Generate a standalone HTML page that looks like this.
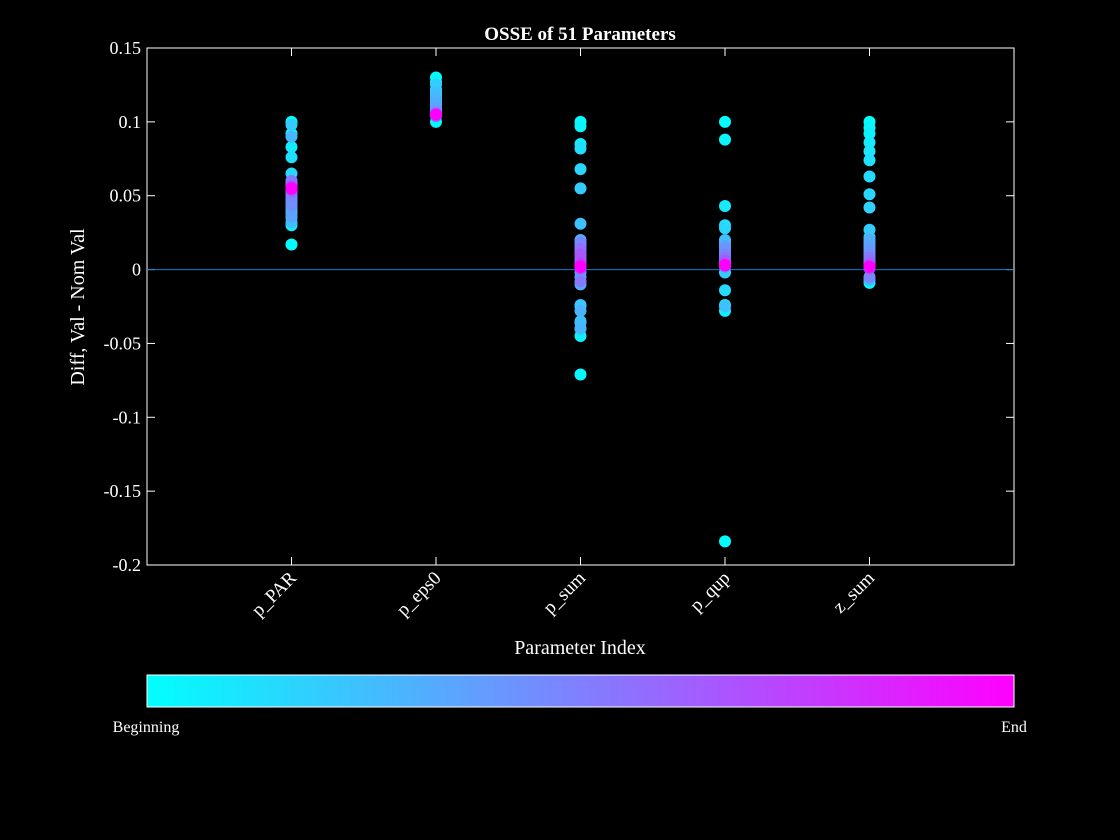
<!DOCTYPE html>
<html><head><meta charset="utf-8"><style>
html,body{margin:0;background:#000;overflow:hidden;width:1120px;height:840px;}
svg{display:block;}
svg text{font-family:"Liberation Serif",serif;fill:#fff;}
</style></head><body>
<svg id="c" width="1120" height="840" xmlns="http://www.w3.org/2000/svg">
<defs><linearGradient id="cool" x1="0" x2="1" y1="0" y2="0"><stop offset="0" stop-color="#00ffff"/><stop offset="1" stop-color="#ff00ff"/></linearGradient></defs>
<rect x="147" y="48" width="867" height="517" fill="#000" stroke="#fff" stroke-width="1"/>
<text x="580" y="40" text-anchor="middle" font-size="19" font-weight="bold">OSSE of 51 Parameters</text>
<text x="580" y="654" text-anchor="middle" font-size="20">Parameter Index</text>
<text transform="translate(84,307) rotate(-90)" text-anchor="middle" font-size="20">Diff, Val - Nom Val</text>
<g id="ax"></g>
<g id="pts"></g>
<rect x="147" y="675" width="867" height="32" fill="url(#cool)" stroke="#fff" stroke-width="1"/>
<text x="146" y="732" text-anchor="middle" font-size="16">Beginning</text>
<text x="1014" y="732" text-anchor="middle" font-size="16">End</text>
</svg>
<script>
const categories=["p_PAR","p_eps0","p_sum","p_qup","z_sum"];
const yTicks=[0.15,0.1,0.05,0,-0.05,-0.1,-0.15,-0.2];
const yTickLabels=["0.15","0.1","0.05","0","-0.05","-0.1","-0.15","-0.2"];
const sPAR=[0.1,0.017,0.092,0.03,0.083,0.035,0.076,0.04,0.065,0.045,0.098,0.038,0.06,0.032,0.09,0.047,0.058,0.05,0.036,0.042,0.048,0.06,0.044,0.058,0.05,0.052,0.06,0.053,0.057,0.054,0.056,0.055,0.055,0.056,0.055,0.054,0.055,0.056,0.055,0.055,0.055,0.055,0.055,0.055,0.055,0.055,0.055,0.055,0.055,0.055,0.055];
const sEPS=[0.13,0.1,0.127,0.122,0.118,0.115,0.12,0.112,0.11,0.108,0.125,0.113,0.12,0.118,0.116,0.114,0.112,0.11,0.109,0.108,0.107,0.106,0.105,0.104,0.105,0.106,0.105,0.105,0.104,0.105,0.105,0.105,0.105,0.105,0.105,0.105,0.105,0.105,0.105,0.105,0.105,0.105,0.105,0.105,0.105,0.105,0.105,0.105,0.105,0.105,0.105];
const sSUM=[0.1,-0.071,0.097,-0.045,0.085,-0.04,0.082,-0.035,0.068,-0.025,0.055,-0.024,0.031,-0.036,-0.04,-0.028,-0.01,0.02,-0.005,0.017,0.015,-0.002,0.012,0.01,0.018,0.008,-0.008,0.005,0.014,0.004,0.002,0.006,0.001,0.01,0.002,0.003,0.004,0.002,0.001,0.002,0.002,0.003,0.002,0.002,0.002,0.002,0.002,0.002,0.002,0.002,0.002];
const sQUP=[0.1,-0.184,0.088,-0.028,0.043,-0.024,0.03,-0.014,0.028,0.018,-0.002,0.015,-0.025,0.02,0.012,0.01,0.008,0.006,0.016,0.004,0.003,0.014,0.004,0.003,0.01,0.006,0.002,0.008,0.004,0.005,0.003,0.004,0.006,0.003,0.004,0.003,0.003,0.003,0.003,0.003,0.003,0.003,0.003,0.003,0.003,0.003,0.003,0.003,0.003,0.003,0.003];
const sZ=[0.1,-0.009,0.096,0.092,0.086,0.08,0.074,0.063,0.051,0.042,0.027,0.022,0.018,0.015,-0.007,0.012,0.02,0.009,0.016,0.007,0.013,0.005,0.01,0.004,-0.005,0.003,0.008,0.002,0.006,0.001,0.002,0.004,0.003,0.002,0.001,0.002,0.002,0.002,0.002,0.002,0.002,0.002,0.002,0.002,0.002,0.002,0.002,0.002,0.002,0.002,0.002];
const series=[sPAR,sEPS,sSUM,sQUP,sZ];
const L=147,R=1014,T=48,B=565;
const X=i=>L+(i+1)*(R-L)/6;
const Y=v=>T+(0.15-v)/0.35*(B-T);
const NS="http://www.w3.org/2000/svg";
const ax=document.getElementById('ax'),pts=document.getElementById('pts');
function mk(tag,at,par){const e=document.createElementNS(NS,tag);for(const k in at)e.setAttribute(k,at[k]);par.appendChild(e);return e;}
yTicks.forEach((v,i)=>{
 const y=Y(v);
 const t=mk('line',{x1:L,x2:L+8,y1:y,y2:y,stroke:'#fff'},ax);
 
 
 const t2=mk('line',{x1:R-8,x2:R,y1:y,y2:y,stroke:'#fff'},ax);
 
 
 const tx=mk('text',{x:L-6,y:y+6,'text-anchor':'end','font-size':'18'},ax);
 tx.textContent=yTickLabels[i];
 
 
});
categories.forEach((c,i)=>{
 const x=X(i);
 const t=mk('line',{x1:x,x2:x,y1:B,y2:B-8,stroke:'#fff'},ax);
 
 
 const t2=mk('line',{x1:x,x2:x,y1:T,y2:T+8,stroke:'#fff'},ax);
 
 
 const tx=mk('text',{transform:`translate(${x+6},${B+14}) rotate(-45)`,'text-anchor':'end','font-size':'19'},ax);
 tx.textContent=c;
 
 
});
const zl=mk('line',{x1:L,x2:R,y1:Y(0),y2:Y(0),stroke:'#0a7fd0','stroke-width':1},ax);


series.forEach((s,i)=>{
 s.forEach((v,j)=>{
  const f=j/(s.length-1);
  const c=`rgb(${Math.round(255*f)},${Math.round(255*(1-f))},255)`;
  const p=mk('circle',{cx:X(i),cy:Y(v),r:6,fill:c},pts);
  
  
 });
});
</script>
</body></html>
